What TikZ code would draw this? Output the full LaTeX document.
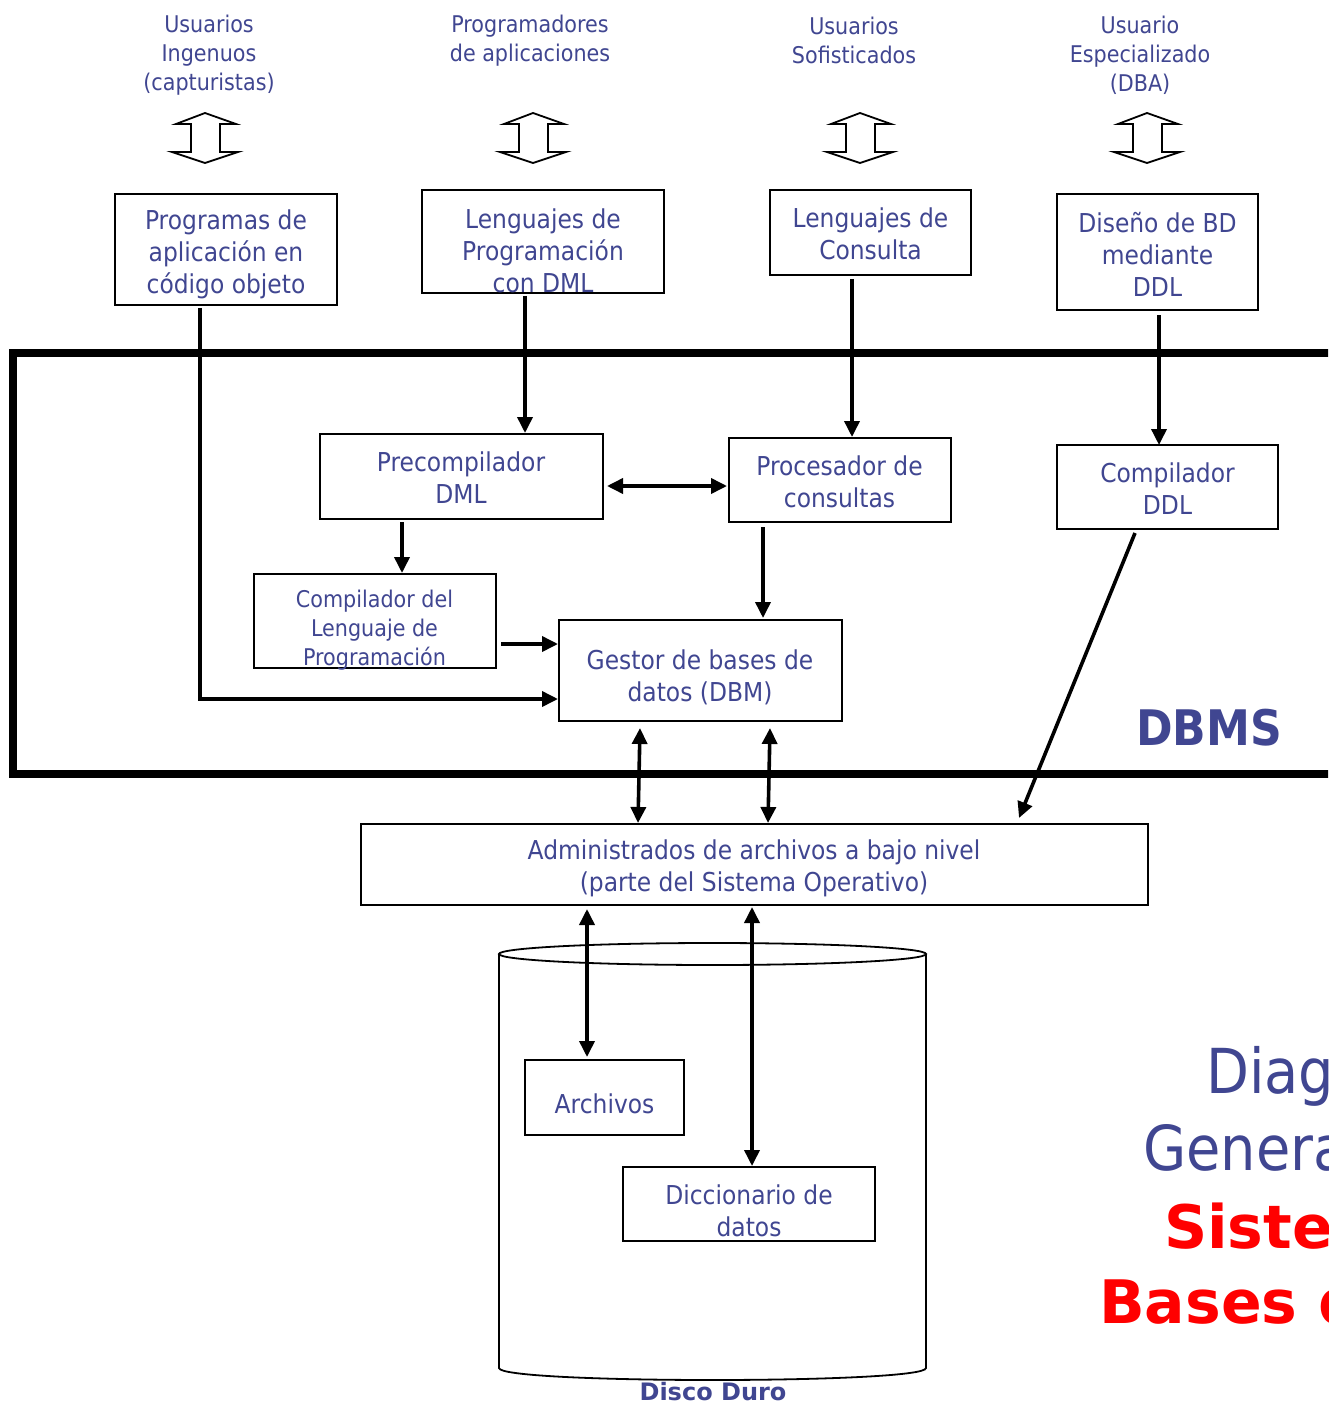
\documentclass[tikz,border=0pt]{standalone}
\usepackage{fontspec}
\setmainfont{DejaVu Sans}[FakeStretch=0.9]
\newfontfamily\widefont{DejaVu Sans}
\usetikzlibrary{arrows.meta,calc}
\definecolor{ink}{RGB}{64,70,145}
\definecolor{hot}{RGB}{255,0,0}
\begin{document}
\begin{tikzpicture}[x=1pt,y=-1pt,
  box/.style 2 args={draw, line width=1.8pt, minimum width=#1pt, minimum height=#2pt,
    inner sep=0pt, outer sep=0pt},
  txt/.style={text=ink, align=center, inner sep=0pt, font=\fontsize{26}{32}\selectfont},
  smalltxt/.style={text=ink, align=center, inner sep=0pt, font=\fontsize{23}{29}\selectfont},
  arr/.style={line width=3.6pt, -{Triangle[length=16pt,width=15pt]}},
  darr/.style={line width=3.6pt, {Triangle[length=16pt,width=15pt]}-{Triangle[length=16pt,width=15pt]}},
  updown/.pic={\draw[line width=1.8pt, line join=miter]
    (0,-25) -- (31,-14) -- (15,-14) -- (15,14) -- (33,14) -- (0,25)
    -- (-33,14) -- (-14,14) -- (-14,-14) -- (-29,-14) -- cycle;}]
\useasboundingbox (0,0) rectangle (1328,1404);
\clip (0,0) rectangle (1328,1404);
\fill[white] (0,0) rectangle (1328,1404);

% user groups
\node[smalltxt] (u1) at (209,55) {Usuarios\\Ingenuos\\(capturistas)};
\node[smalltxt] (u2) at (530,40.5) {Programadores\\de aplicaciones};
\node[smalltxt] (u3) at (854,40.5) {Usuarios\\Sofisticados};
\node[smalltxt] (u4) at (1140,55) {Usuario\\Especializado\\(DBA)};

\pic at (205,138) {updown};
\pic at (533,138) {updown};
\pic at (860,138) {updown};
\pic at (1147,138) {updown};

% interfaces
\node[box={222}{111}] (prog) at (226,249.5) {};
\node[txt] (prog-t) at (226,254) {Programas de\\aplicación en\\código objeto};
\node[box={242}{103}] (lengdml) at (543,241.5) {};
\node[txt] (lengdml-t) at (543,251) {Lenguajes de\\Programación\\con DML};
\node[box={201}{85}] (consulta) at (870.5,232.5) {};
\node[txt] (consulta-t) at (870.5,234) {Lenguajes de\\Consulta};
\node[box={201}{116}] (diseno) at (1157.5,252) {};
\node[txt] (diseno-t) at (1157.5,254) {Diseño de BD\\mediante\\DDL};

% DBMS frame
\draw[line width=8pt] (13,353) rectangle (1345,774);
\node[anchor=base west, inner sep=0pt, text=ink, font=\fontsize{49}{52}\selectfont\bfseries]
  (dbms) at (1136,745) {DBMS};

% DBMS components
\node[box={283}{85}] (precomp) at (461.5,476.5) {};
\node[txt] (precomp-t) at (461,478) {Precompilador\\DML};
\node[box={222}{84}] (proc) at (840,480) {};
\node[txt] (proc-t) at (839.5,482) {Procesador de\\consultas};
\node[box={221}{84}] (compddl) at (1167.5,487) {};
\node[txt] (compddl-t) at (1167.5,489) {Compilador\\DDL};
\node[box={242}{94}] (compleng) at (375,621) {};
\node[smalltxt] (compleng-t) at (374.5,630) {Compilador del\\Lenguaje de\\Programación};
\node[box={283}{101}] (dbm) at (700.5,670.5) {};
\node[txt] (dbm-t) at (700,677) {Gestor de bases de\\datos (DBM)};

% operating system and disk
\node[box={787}{81}] (admin) at (754.5,864.5) {};
\node[txt] (admin-t) at (754,868) {Administrados de archivos a bajo nivel\\(parte del Sistema Operativo)};

\draw[line width=1.8pt] (712.5,954) ellipse [x radius=213.5pt, y radius=11pt];
\draw[line width=1.8pt] (499,954) -- (499,1368) .. controls (499,1384) and (926,1384) .. (926,1368) -- (926,954);
\node[anchor=base, inner sep=0pt, text=ink, font=\widefont\fontsize{24}{26}\selectfont\bfseries]
  (disco) at (713,1400) {Disco Duro};

\node[box={159}{75}] (archivos) at (604.5,1097.5) {};
\node[txt] (archivos-t) at (604.5,1104) {Archivos};
\node[box={252}{74}] (dicc) at (749,1204) {};
\node[txt] (dicc-t) at (749,1211) {Diccionario de\\datos};

% connectors
\draw[arr] ($(prog.south)+(-26,3)$) |- ($(dbm.west)+(-1,28.5)$);
\draw[arr] ($(lengdml.south)+(-18,3)$) -- ($(precomp.north)+(63.5,-1)$);
\draw[arr] ($(consulta.south)+(-18.5,4)$) -- ($(proc.north)+(12,-1)$);
\draw[arr] ($(diseno.south)+(1.5,5)$) -- ($(compddl.north)+(-8.5,0)$);
\draw[darr] ($(precomp.east)+(4,9.5)$) -- ($(proc.west)+(-2,6)$);
\draw[arr] ($(precomp.south)+(-59.5,3)$) -- ($(compleng.north)+(27,-1)$);
\draw[arr] ($(compleng.east)+(5,23)$) -- ($(dbm.west)+(-1,-26.5)$);
\draw[arr] ($(proc.south)+(-77,5)$) -- ($(dbm.north)+(62.5,-2)$);
\draw[arr] ($(compddl.south)+(-32.5,4)$) -- ($(admin.north)+(264.5,-6)$);
\draw[darr] ($(dbm.south)+(-60.5,7)$) -- ($(admin.north)+(-116.5,-1)$);
\draw[darr] ($(dbm.south)+(69.5,7)$) -- ($(admin.north)+(13.5,-1)$);
\draw[darr] ($(admin.south)+(-167.5,4)$) -- ($(archivos.north)+(-17.5,-3)$);
\draw[darr] ($(admin.south)+(-2.5,2)$) -- ($(dicc.north)+(3,-1)$);

% title, running off the right edge
\node[anchor=base west, inner sep=0pt, text=ink, font=\fontsize{62}{70}\selectfont]
  (t1) at (1206,1093) {Diagrama};
\node[anchor=base west, inner sep=0pt, text=ink, font=\fontsize{62}{70}\selectfont]
  (t2) at (1143,1170) {General};
\node[anchor=base west, inner sep=0pt, text=hot, font=\widefont\fontsize{60}{70}\selectfont\bfseries]
  (t3) at (1164,1248) {Sistema};
\node[anchor=base west, inner sep=0pt, text=hot, font=\widefont\fontsize{60}{70}\selectfont\bfseries]
  (t4) at (1099,1323) {Bases de};
\end{tikzpicture}
\end{document}
